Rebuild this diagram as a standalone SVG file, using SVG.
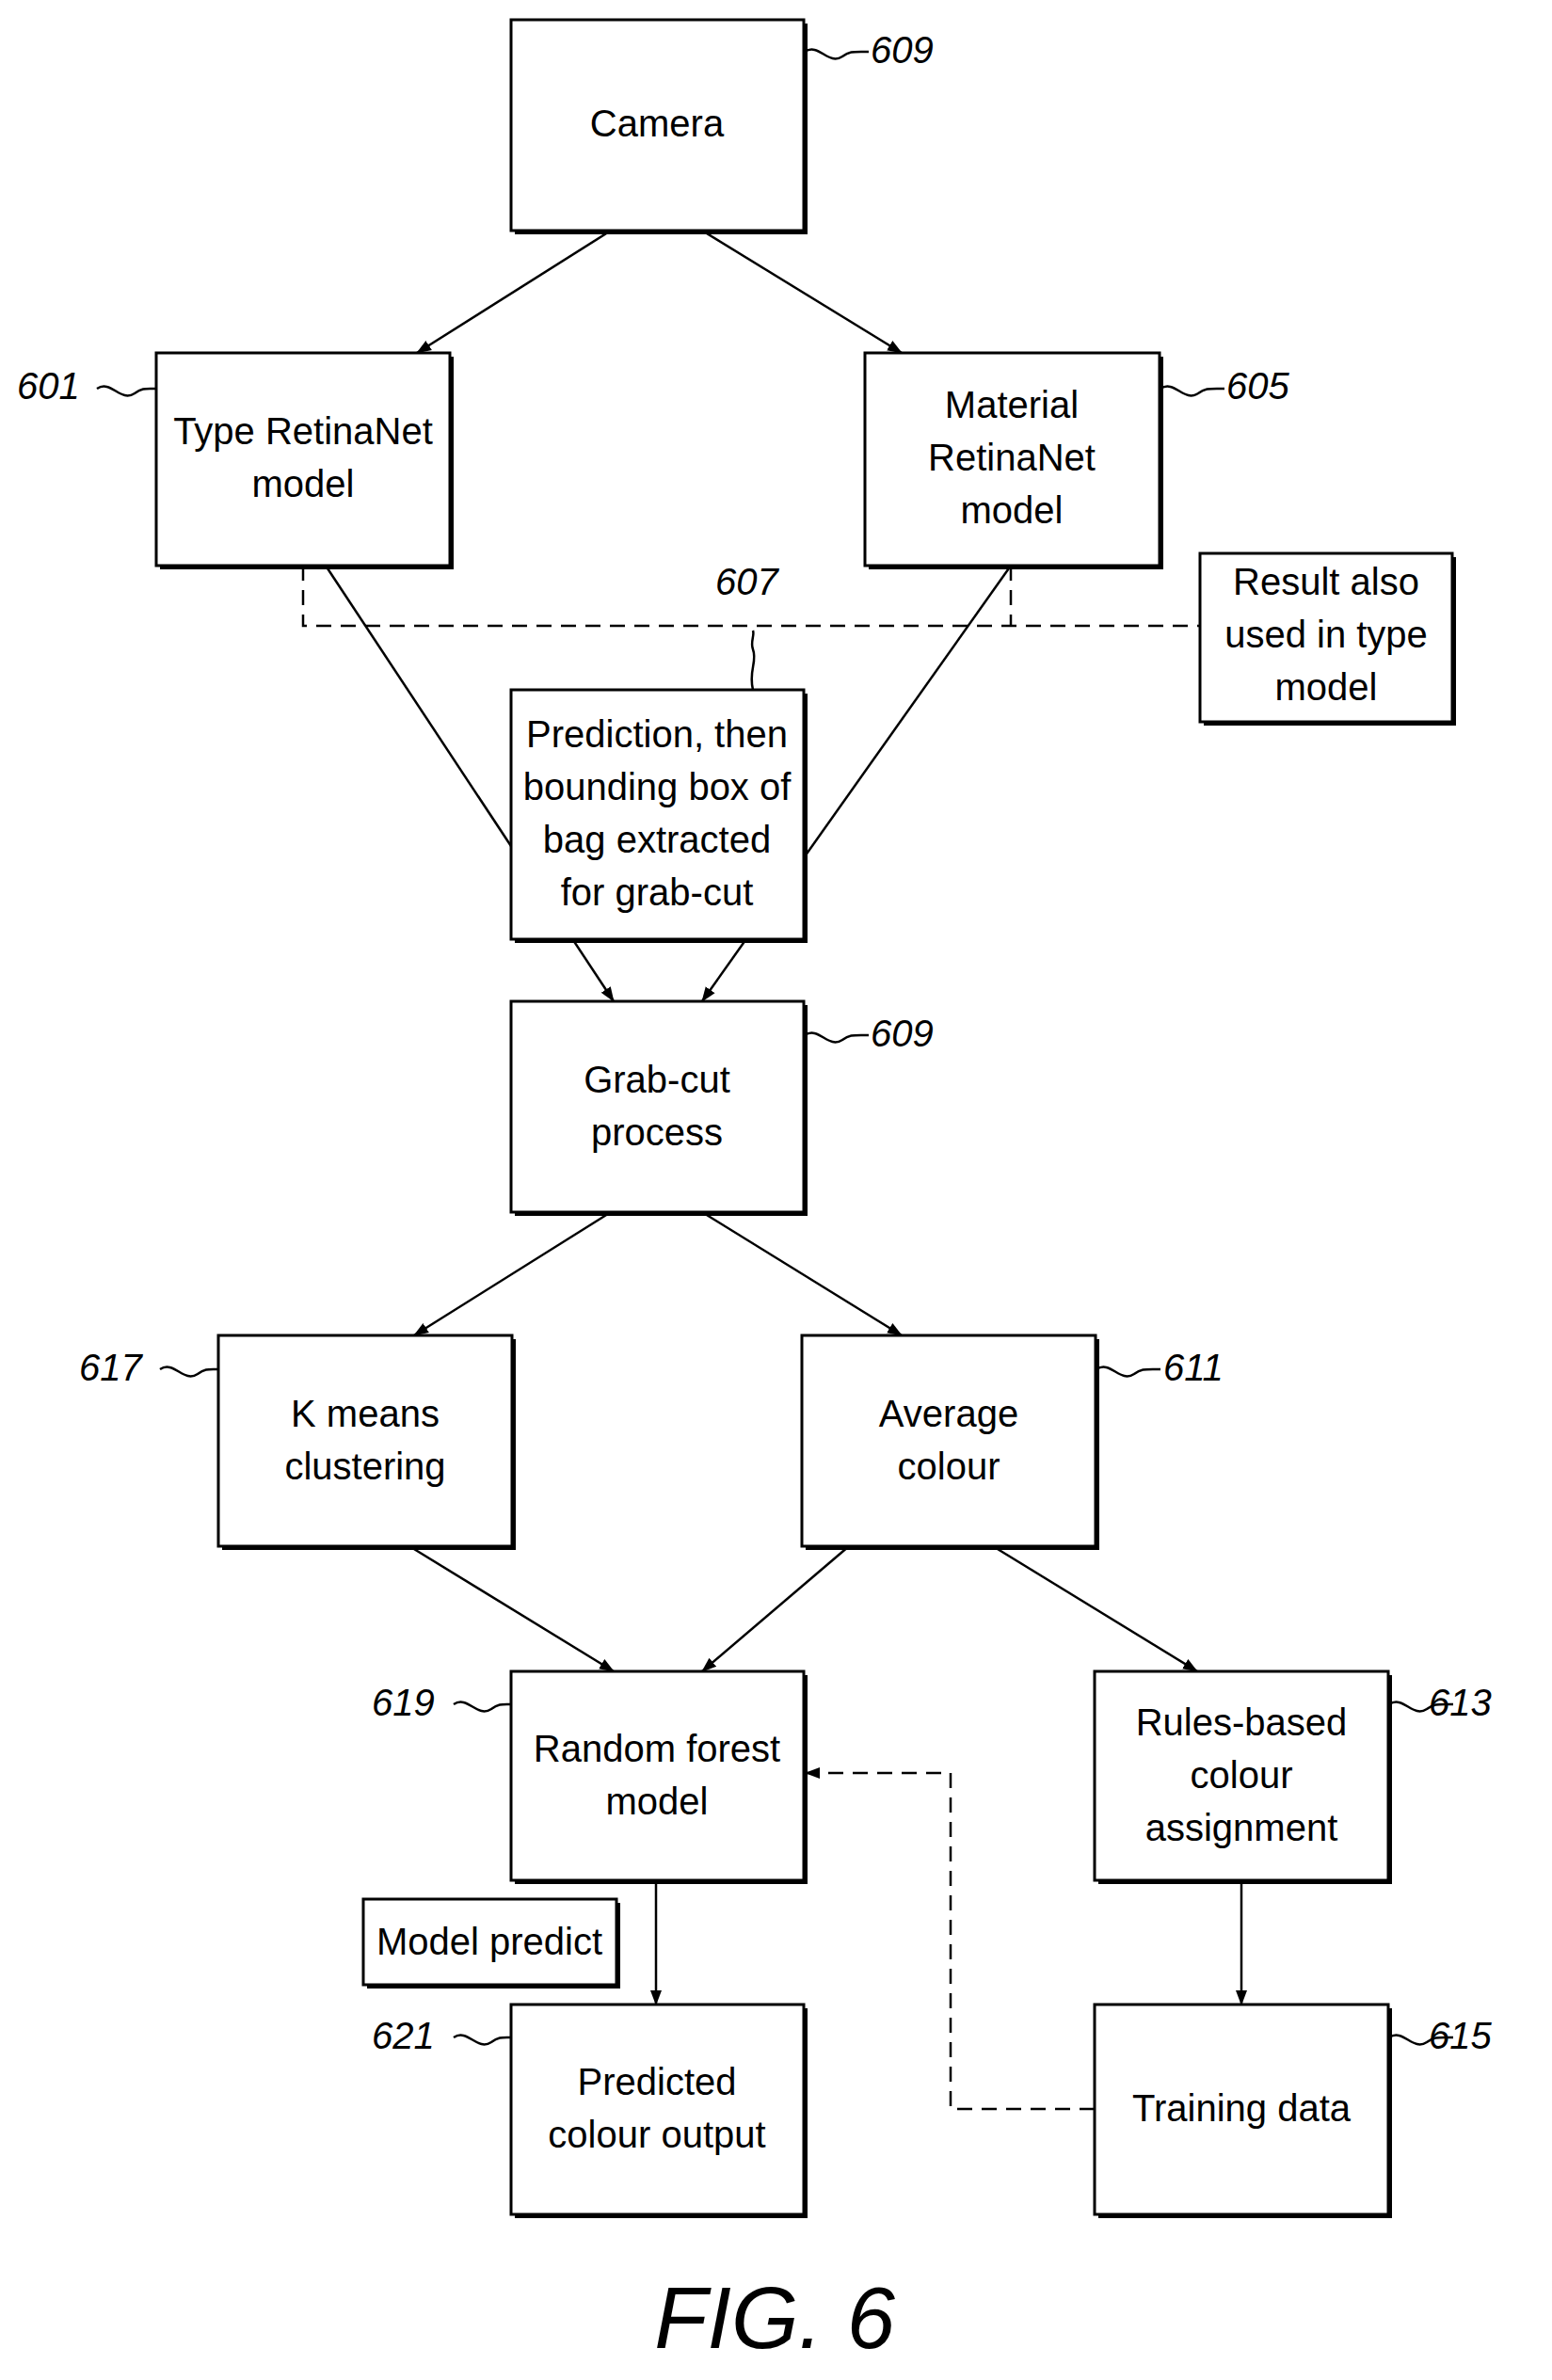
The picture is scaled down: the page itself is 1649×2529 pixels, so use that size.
<svg xmlns="http://www.w3.org/2000/svg" width="1649" height="2529" viewBox="0 0 1649 2529">
<style>
.b{fill:#fff;stroke:#000;stroke-width:3}
.s{fill:#000}
.t{font-family:"Liberation Sans Narrow","Liberation Sans",Arial,sans-serif;font-size:40px;text-anchor:middle;fill:#000}
.r{font-family:"Liberation Sans","Arial",sans-serif;font-style:italic;font-size:40px;fill:#000}
.c{stroke:#000;stroke-width:2.5;fill:none}
.d{stroke:#000;stroke-width:2.5;fill:none;stroke-dasharray:16 10}
</style>
<defs>
<marker id="a" markerWidth="10" markerHeight="10" refX="9" refY="5" orient="auto" markerUnits="userSpaceOnUse" viewBox="0 0 10 10"><path d="M0,0L10,5L0,10z"/></marker>
<marker id="ab" markerWidth="16" markerHeight="16" refX="15" refY="8" orient="auto" markerUnits="userSpaceOnUse" viewBox="0 0 16 16"><path d="M0,2L16,8L0,14z"/></marker>
</defs>
<g id="connectors">
<line class="c" x1="649" y1="245" x2="443" y2="375" marker-end="url(#ab)"/>
<line class="c" x1="746" y1="245" x2="958" y2="375" marker-end="url(#ab)"/>
<line class="c" x1="346" y1="601" x2="652" y2="1064" marker-end="url(#ab)"/>
<line class="c" x1="1074" y1="601" x2="746" y2="1064" marker-end="url(#ab)"/>
<path class="d" d="M322,601V665H1275"/>
<path class="d" d="M1074,601V665"/>
<line class="c" x1="649" y1="1288" x2="440" y2="1419" marker-end="url(#ab)"/>
<line class="c" x1="746" y1="1288" x2="958" y2="1419" marker-end="url(#ab)"/>
<line class="c" x1="435" y1="1643" x2="652" y2="1776" marker-end="url(#ab)"/>
<line class="c" x1="902" y1="1643" x2="746" y2="1776" marker-end="url(#ab)"/>
<line class="c" x1="1055" y1="1643" x2="1272" y2="1776" marker-end="url(#ab)"/>
<line class="c" x1="697" y1="1998" x2="697" y2="2130" marker-end="url(#ab)"/>
<line class="c" x1="1319" y1="1998" x2="1319" y2="2130" marker-end="url(#ab)"/>
<path class="d" d="M1163,2241H1010V1884H856" marker-end="url(#ab)"/>
</g>
<g id="refs" fill="none" stroke="#000" stroke-width="2.5">
<path d="M855,55c15,-10 25,15 40,5c8,-6 12,-5 28,-5"/>
<path d="M103,413c15,-10 25,15 40,5c8,-6 12,-5 22,-5"/>
<path d="M1233,413c15,-10 25,15 40,5c8,-6 12,-5 28,-5"/>
<path d="M800,733c-5,-20 5,-30 0,-43c-3,-8 2,-15 0,-20"/>
<path d="M855,1100c15,-10 25,15 40,5c8,-6 12,-5 28,-5"/>
<path d="M170,1455c15,-10 25,15 40,5c8,-6 12,-5 22,-5"/>
<path d="M1165,1455c15,-10 25,15 40,5c8,-6 12,-5 28,-5"/>
<path d="M482,1811c15,-10 25,15 40,5c8,-6 12,-5 22,-5"/>
<path d="M1476,1811c15,-10 25,15 40,5c8,-6 12,-5 28,-5"/>
<path d="M482,2165c15,-10 25,15 40,5c8,-6 12,-5 22,-5"/>
<path d="M1476,2165c15,-10 25,15 40,5c8,-6 12,-5 28,-5"/>
</g>
<g class="r">
<text x="925" y="67">609</text>
<text x="18" y="424">601</text>
<text x="1303" y="424">605</text>
<text x="760" y="632">607</text>
<text x="925" y="1112">609</text>
<text x="84" y="1467">617</text>
<text x="1236" y="1467">611</text>
<text x="395" y="1823">619</text>
<text x="1518" y="1823">613</text>
<text x="395" y="2177">621</text>
<text x="1518" y="2177">615</text>
</g>
<g id="camera"><rect class="s" x="547" y="25" width="311" height="224"/><rect class="b" x="543" y="21" width="311" height="224"/><text class="t" x="698" y="145">Camera</text></g>
<g id="type"><rect class="s" x="170" y="379" width="312" height="226"/><rect class="b" x="166" y="375" width="312" height="226"/><text class="t" x="322" y="472">Type RetinaNet</text><text class="t" x="322" y="528">model</text></g>
<g id="material"><rect class="s" x="923" y="379" width="313" height="226"/><rect class="b" x="919" y="375" width="313" height="226"/><text class="t" x="1075" y="444">Material</text><text class="t" x="1075" y="500">RetinaNet</text><text class="t" x="1075" y="556">model</text></g>
<g id="result"><rect class="s" x="1279" y="592" width="268" height="179"/><rect class="b" x="1275" y="588" width="268" height="179"/><text class="t" x="1409" y="632">Result also</text><text class="t" x="1409" y="688">used in type</text><text class="t" x="1409" y="744">model</text></g>
<g id="prediction"><rect class="s" x="547" y="737" width="311" height="265"/><rect class="b" x="543" y="733" width="311" height="265"/><text class="t" x="698" y="794">Prediction, then</text><text class="t" x="698" y="850">bounding box of</text><text class="t" x="698" y="906">bag extracted</text><text class="t" x="698" y="962">for grab-cut</text></g>
<g id="grabcut"><rect class="s" x="547" y="1068" width="311" height="224"/><rect class="b" x="543" y="1064" width="311" height="224"/><text class="t" x="698" y="1161">Grab-cut</text><text class="t" x="698" y="1217">process</text></g>
<g id="kmeans"><rect class="s" x="236" y="1423" width="312" height="224"/><rect class="b" x="232" y="1419" width="312" height="224"/><text class="t" x="388" y="1516">K means</text><text class="t" x="388" y="1572">clustering</text></g>
<g id="average"><rect class="s" x="856" y="1423" width="312" height="224"/><rect class="b" x="852" y="1419" width="312" height="224"/><text class="t" x="1008" y="1516">Average</text><text class="t" x="1008" y="1572">colour</text></g>
<g id="randomforest"><rect class="s" x="547" y="1780" width="311" height="222"/><rect class="b" x="543" y="1776" width="311" height="222"/><text class="t" x="698" y="1872">Random forest</text><text class="t" x="698" y="1928">model</text></g>
<g id="rules"><rect class="s" x="1167" y="1780" width="312" height="222"/><rect class="b" x="1163" y="1776" width="312" height="222"/><text class="t" x="1319" y="1844">Rules-based</text><text class="t" x="1319" y="1900">colour</text><text class="t" x="1319" y="1956">assignment</text></g>
<g id="modelpredict"><rect class="s" x="390" y="2022" width="269" height="91"/><rect class="b" x="386" y="2018" width="269" height="91"/><text class="t" x="520" y="2077">Model predict</text></g>
<g id="predicted"><rect class="s" x="547" y="2134" width="311" height="223"/><rect class="b" x="543" y="2130" width="311" height="223"/><text class="t" x="698" y="2226">Predicted</text><text class="t" x="698" y="2282">colour output</text></g>
<g id="training"><rect class="s" x="1167" y="2134" width="312" height="223"/><rect class="b" x="1163" y="2130" width="312" height="223"/><text class="t" x="1319" y="2254">Training data</text></g>
<text x="823" y="2495" font-family="Liberation Sans,Arial,sans-serif" font-style="italic" font-size="92" text-anchor="middle">FIG. 6</text>
</svg>
